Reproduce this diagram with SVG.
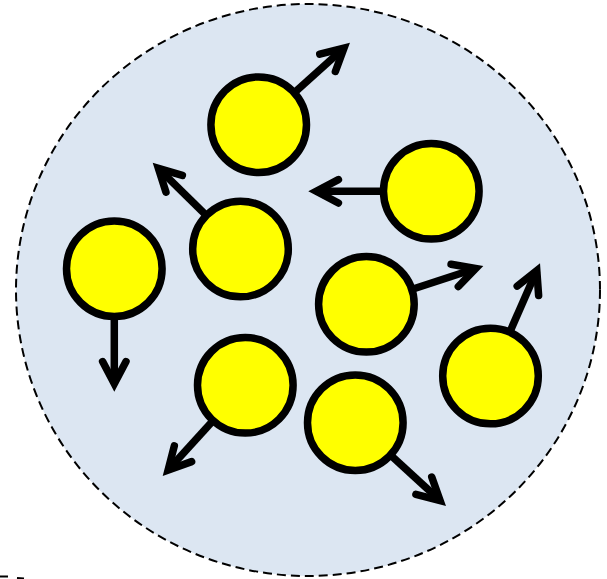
<svg xmlns="http://www.w3.org/2000/svg" width="607" height="579" viewBox="0 0 607 579">
<style>
.ball{fill:#ffff00;stroke:#000;stroke-width:7.5}
.arrow{stroke:#000;stroke-width:7.5;fill:none;marker-end:url(#head)}
.boundary{fill:#dce6f2;stroke:#000;stroke-width:2;stroke-dasharray:9 5}
</style>
<defs>
<marker id="head" orient="auto" markerUnits="userSpaceOnUse" refX="0" refY="0" markerWidth="40" markerHeight="40" overflow="visible">
<path d="M-22.1,-11.7 L0,0 L-22.1,11.7" fill="none" stroke="#000" stroke-width="7.5" stroke-linecap="round" stroke-linejoin="miter" stroke-miterlimit="6"/>
</marker>
</defs>
<rect width="607" height="579" fill="#fff"/>
<ellipse class="boundary" cx="308" cy="290" rx="292" ry="286"/>
<path d="M0,576.5 L8,576.5 M17,578 L24,578.6" fill="none" stroke="#000" stroke-width="2"/>
<g id="connectors">
<line class="arrow" x1="258.7" y1="124.7" x2="344.0" y2="48.0"/>
<line class="arrow" x1="240.5" y1="249" x2="158.4" y2="168.3"/>
<line class="arrow" x1="114.3" y1="268.7" x2="114.3" y2="383.7"/>
<line class="arrow" x1="431.3" y1="191.3" x2="316.3" y2="191.3"/>
<line class="arrow" x1="490.5" y1="376" x2="536.8" y2="270.6"/>
<line class="arrow" x1="366.4" y1="304.3" x2="475.7" y2="268.5"/>
<line class="arrow" x1="245.3" y1="385.3" x2="168.1" y2="470.1"/>
<line class="arrow" x1="355.3" y1="422.7" x2="440.1" y2="500.6"/>
</g>
<g id="p1"><circle class="ball" cx="258.7" cy="124.7" r="47.8"/></g>
<g id="p2"><circle class="ball" cx="240.5" cy="249" r="47.8"/></g>
<g id="p3"><circle class="ball" cx="114.3" cy="268.7" r="47.8"/></g>
<g id="p4"><circle class="ball" cx="431.3" cy="191.3" r="47.8"/></g>
<g id="p5"><circle class="ball" cx="490.5" cy="376" r="47.8"/></g>
<g id="p6"><circle class="ball" cx="366.4" cy="304.3" r="47.8"/></g>
<g id="p7"><circle class="ball" cx="245.3" cy="385.3" r="47.8"/></g>
<g id="p8"><circle class="ball" cx="355.3" cy="422.7" r="47.8"/></g>
</svg>
